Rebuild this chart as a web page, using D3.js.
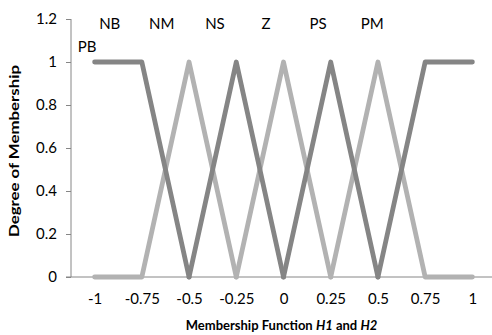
<!DOCTYPE html>
<html>
<head>
<meta charset="utf-8">
<script src="https://cdn.jsdelivr.net/npm/d3@7"></script>
<style>
  body { margin: 0; background: #fff; }
  text { font-family: Lato, "Open Sans", sans-serif; fill: #000; }
</style>
</head>
<body>
<svg class="chart"></svg>
<script>
const width = 492;
const height = 335;
const margin = { top: 19, left: 71, bottom: 58, right: -4 };

// category values on the x axis
const xTicks = [-1, -0.75, -0.5, -0.25, 0, 0.25, 0.5, 0.75, 1];
const yTicks = [0, 0.2, 0.4, 0.6, 0.8, 1, 1.2];

// membership values, null = no point
const nb = [1, 1, 0, null, null, null, null, null, null];
const nm = [0, 0, 1, 0, null, null, null, null, null];
const ns = [null, null, 0, 1, 0, null, null, null, null];
const z  = [null, null, null, 0, 1, 0, null, null, null];
const ps = [null, null, null, null, 0, 1, 0, null, null];
const pm = [null, null, null, null, null, 0, 1, 0, 0];
const pb = [null, null, null, null, null, null, 0, 1, 1];

// label text and where it sits in data units
const labelNames = ["PB", "NB", "NM", "NS", "Z", "PS", "PM"];
const labelX = [-1.04, -0.92, -0.645, -0.363, -0.093, 0.183, 0.47];
const labelY = [1.07, 1.18, 1.18, 1.18, 1.18, 1.18, 1.18];

const series = [
  { values: nm, color: "#b2b2b2" },
  { values: z,  color: "#b2b2b2" },
  { values: pm, color: "#b2b2b2" },
  { values: nb, color: "#858585" },
  { values: ns, color: "#858585" },
  { values: ps, color: "#858585" },
  { values: pb, color: "#858585" }
];

const w = width - margin.left - margin.right;
const h = height - margin.top - margin.bottom;

let svg = d3.select("svg.chart")
    .attr("width", width)
    .attr("height", height);

let g = svg.append("g")
    .attr("transform", `translate(${margin.left}, ${margin.top})`);

let x = d3.scaleLinear()
    .domain([-1.125, 1.125])
    .range([0, w]);

let y = d3.scaleLinear()
    .domain([0, 1.2])
    .range([h, 0]);

let line = d3.line()
    .defined(d => d.y !== null)
    .x(d => x(d.x))
    .y(d => y(d.y));

// y axis
let yAxis = g.append("g")
    .call(d3.axisLeft(y).tickValues(yTicks).tickSize(5).tickPadding(9)
        .tickFormat(d => d3.format("")(+d.toFixed(1))));
yAxis.select(".domain").attr("stroke", "#868686").attr("d", `M0,0V${h}`);
yAxis.selectAll(".tick line").attr("stroke", "#868686");
yAxis.selectAll("text").style("font-size", "15px");

// x axis (no tick marks, labels only)
let xAxis = g.append("g")
    .attr("transform", `translate(0, ${h})`)
    .call(d3.axisBottom(x).tickValues(xTicks).tickSize(0).tickPadding(16)
        .tickFormat(d => String(d)));
xAxis.select(".domain").attr("stroke", "#868686").attr("d", `M-5,0H${w}`);
xAxis.selectAll("text").style("font-size", "15px");

// membership lines
series.forEach(s => {
  g.append("path")
      .datum(xTicks.map((v, i) => ({ x: v, y: s.values[i] })))
      .attr("fill", "none")
      .attr("stroke", s.color)
      .attr("stroke-width", 4.8)
      .attr("stroke-linejoin", "round")
      .attr("stroke-linecap", "round")
      .attr("d", line);
});

// set labels
g.selectAll(".lbl")
    .data(labelNames)
  .enter().append("text")
    .attr("class", "lbl")
    .attr("x", (d, i) => x(labelX[i]))
    .attr("y", (d, i) => y(labelY[i]))
    .attr("dy", "0.35em")
    .attr("text-anchor", "middle")
    .style("font-size", "15px")
    .text(d => d);

// axis titles
svg.append("text")
    .attr("transform", "translate(19, 151) rotate(-90)")
    .attr("text-anchor", "middle")
    .attr("textLength", 172)
    .attr("lengthAdjust", "spacingAndGlyphs")
    .style("font-size", "13.5px")
    .style("font-weight", "bold")
    .text("Degree of Membership");

let xt = svg.append("text")
    .attr("x", margin.left + x(0) - 2)
    .attr("y", 330)
    .attr("text-anchor", "middle")
    .style("font-size", "13px")
    .style("font-weight", "bold");
xt.append("tspan").text("Membership Function ");
xt.append("tspan").style("font-style", "italic").text("H1");
xt.append("tspan").text(" and ");
xt.append("tspan").style("font-style", "italic").text("H2");
</script>
</body>
</html>
